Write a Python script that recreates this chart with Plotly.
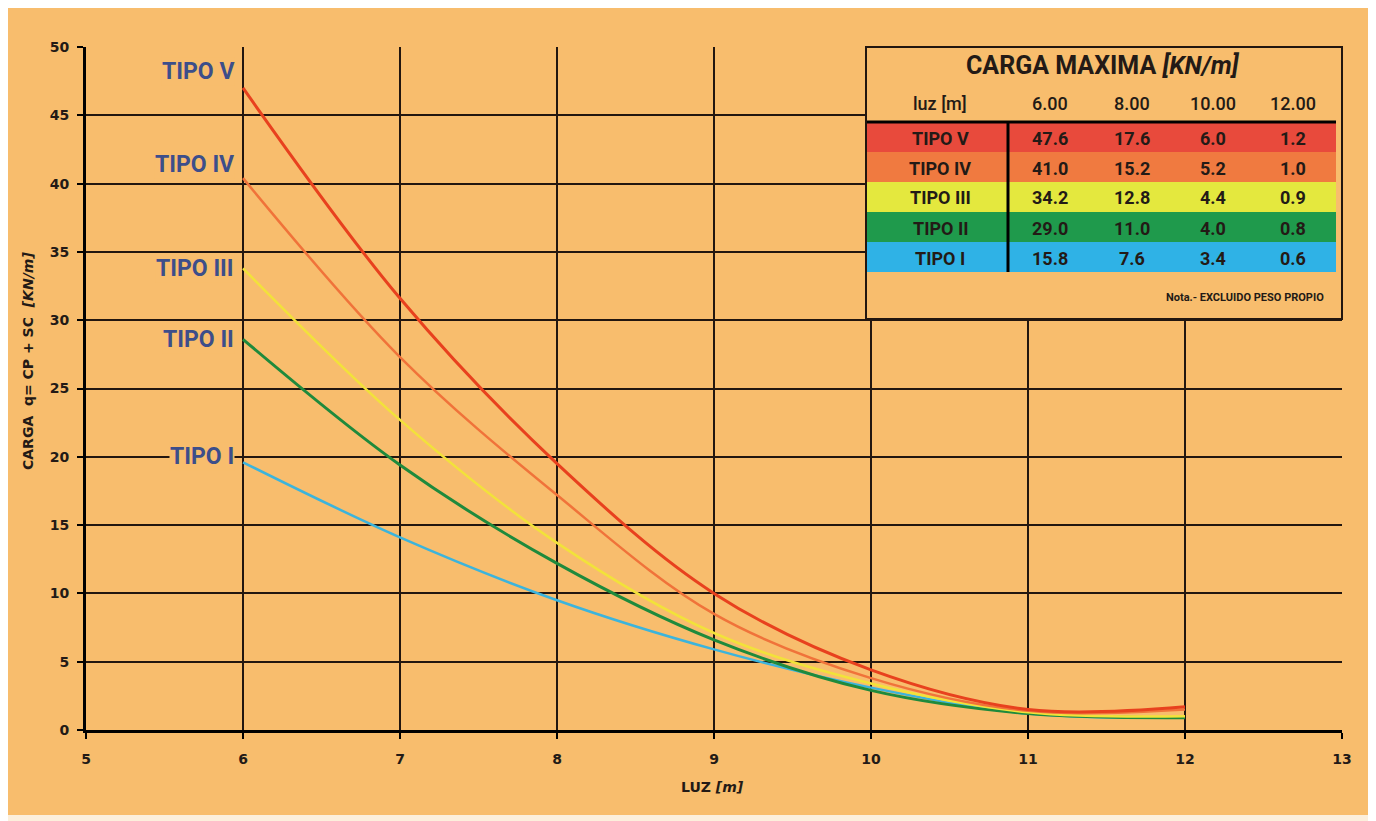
import plotly.graph_objects as go

# Data
luz = [6, 7, 8, 9, 10, 11, 12]
tipo_v = [47.0, 31.6, 19.5, 10.0, 4.4, 1.5, 1.7]
tipo_iv = [40.4, 27.3, 17.2, 8.5, 3.8, 1.4, 1.5]
tipo_iii = [33.8, 22.7, 13.7, 7.1, 3.4, 1.3, 1.0]
tipo_ii = [28.6, 19.4, 12.2, 6.6, 2.9, 1.2, 0.9]
tipo_i = [19.6, 14.1, 9.5, 5.9, 3.1, 1.2, 0.9]

tipos = ["TIPO V", "TIPO IV", "TIPO III", "TIPO II", "TIPO I"]

# Table "CARGA MAXIMA"
tabla_luz = ["6.00", "8.00", "10.00", "12.00"]
tabla_v = ["47.6", "17.6", "6.0", "1.2"]
tabla_iv = ["41.0", "15.2", "5.2", "1.0"]
tabla_iii = ["34.2", "12.8", "4.4", "0.9"]
tabla_ii = ["29.0", "11.0", "4.0", "0.8"]
tabla_i = ["15.8", "7.6", "3.4", "0.6"]

## STYLE ##
# the page body has an 8px margin, so the figure is drawn 8px smaller
W, H = 1368, 813
L, R, T, B = 78, 34, 39, 91
ORANGE = "#F8BD6D"
GRID = "#22160f"
TXT = "#231a16"
LABEL_BLUE = "#3d4e8a"
NARROW = "Roboto, Lato, sans-serif"
WIDE = "DejaVu Sans, Verdana, sans-serif"

line_colors = ["#e8411e", "#f0733a", "#f2e23a", "#1f8a3c", "#3cb4dc"]
line_widths = [3, 2.5, 2.5, 3, 2.5]
row_colors = ["#e84a3c", "#f07a40", "#e4e83e", "#1f9a4c", "#2fb2e6"]
label_pos = [48.2, 41.4, 33.8, 28.6, 20.0]


def px_x(px):
    # reference pixel -> paper x
    return (px - 8 - L) / (W - L - R)


def px_y(py):
    # reference pixel -> paper y
    return (H - B - (py - 8)) / (H - T - B)


series = [tipo_v, tipo_iv, tipo_iii, tipo_ii, tipo_i]
tabla = [tabla_v, tabla_iv, tabla_iii, tabla_ii, tabla_i]

fig = go.Figure()

# draw lowest series first so red ends on top
for name, ys, col, lw in reversed(list(zip(tipos, series, line_colors, line_widths))):
    fig.add_trace(
        go.Scatter(
            x=luz,
            y=ys,
            name=name,
            mode="lines",
            line=dict(color=col, width=lw, shape="spline", smoothing=1.0),
        )
    )

shapes = []
annotations = []

# outer orange panel with pale frame
shapes.append(
    dict(
        type="rect", xref="paper", yref="paper",
        x0=px_x(0), x1=px_x(1369), y0=px_y(815), y1=px_y(0),
        fillcolor=ORANGE, line=dict(width=0), layer="below",
    )
)

# series labels at the left
for name, yv in zip(tipos, label_pos):
    annotations.append(
        dict(
            x=6, y=yv, xref="x", yref="y", text=name, showarrow=False,
            xanchor="right", yanchor="middle", xshift=-8,
            bgcolor=ORANGE, borderpad=0,
            font=dict(family=NARROW, size=23, color=LABEL_BLUE, weight="bold"),
        )
    )

# table box
shapes.append(
    dict(
        type="rect", xref="paper", yref="paper",
        x0=px_x(866), x1=px_x(1342), y0=px_y(319), y1=px_y(47),
        fillcolor=ORANGE, line=dict(color=GRID, width=2), layer="above",
    )
)
row_top = 122
row_h = 30
for i, col in enumerate(row_colors):
    shapes.append(
        dict(
            type="rect", xref="paper", yref="paper",
            x0=px_x(867), x1=px_x(1336),
            y0=px_y(row_top + (i + 1) * row_h), y1=px_y(row_top + i * row_h),
            fillcolor=col, line=dict(width=0), layer="above",
        )
    )
shapes.append(
    dict(
        type="line", xref="paper", yref="paper",
        x0=px_x(867), x1=px_x(1336), y0=px_y(row_top), y1=px_y(row_top),
        line=dict(color="black", width=3), layer="above",
    )
)
shapes.append(
    dict(
        type="line", xref="paper", yref="paper",
        x0=px_x(1008), x1=px_x(1008), y0=px_y(row_top + 5 * row_h), y1=px_y(row_top),
        line=dict(color="black", width=3), layer="above",
    )
)

col_x = [940, 1050, 1132, 1213, 1293]


def paper_text(px, py, text, size, weight="normal", xanchor="center", family=NARROW, angle=0):
    return dict(
        x=px_x(px), y=px_y(py), xref="paper", yref="paper",
        text=text, showarrow=False, xanchor=xanchor, yanchor="middle",
        textangle=angle,
        font=dict(family=family, size=size, color=TXT, weight=weight),
    )


annotations.append(paper_text(1103, 66, "CARGA MAXIMA <i>[KN/m]</i>", 25, "bold"))
for cx, txt in zip(col_x, ["luz [m]"] + tabla_luz):
    annotations.append(paper_text(cx, 103, txt, 18, 500))
for i, (name, vals) in enumerate(zip(tipos, tabla)):
    yc = row_top + i * row_h + row_h / 2 + 1
    for cx, txt in zip(col_x, [name] + vals):
        annotations.append(paper_text(cx, yc, txt, 18, "bold"))
annotations.append(paper_text(1326, 297, "Nota.- EXCLUIDO PESO PROPIO", 11, "bold", xanchor="right"))

# axis titles
annotations.append(paper_text(28, 361, "CARGA  q= CP + SC  <i>[KN/m]</i>", 14, "bold", family=WIDE, angle=-90))
annotations.append(paper_text(712, 787, "LUZ <i>[m]</i>", 14, "bold", family=WIDE))

tick_font = dict(family=WIDE, size=14, color=TXT, weight="bold")

fig.update_layout(
    width=W,
    height=H,
    margin=dict(l=L, r=R, t=T, b=B, autoexpand=False),
    paper_bgcolor="#fcefdc",
    plot_bgcolor=ORANGE,
    showlegend=False,
    shapes=shapes,
    annotations=annotations,
)

fig.update_xaxes(
    range=[5, 13], dtick=1, tick0=5,
    showgrid=True, gridcolor=GRID, gridwidth=2,
    showline=True, linecolor="black", linewidth=3,
    ticks="outside", ticklen=6, tickwidth=2, tickcolor="black",
    ticklabelstandoff=8,
    tickfont=tick_font, zeroline=False,
)
fig.update_yaxes(
    range=[0, 50], dtick=5, tick0=0,
    showgrid=True, gridcolor=GRID, gridwidth=2,
    showline=True, linecolor="black", linewidth=3,
    ticks="outside", ticklen=6, tickwidth=2, tickcolor="black",
    ticklabelstandoff=5,
    tickfont=tick_font, zeroline=False,
)

fig.write_html("out.html")
